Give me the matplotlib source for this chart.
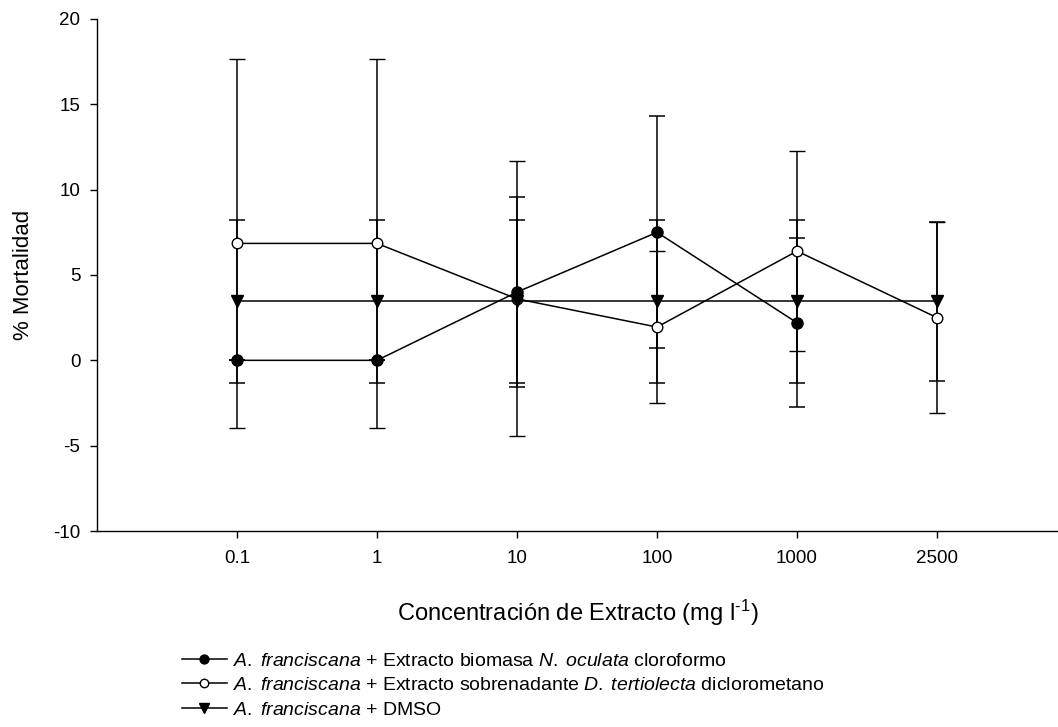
import numpy as np
import matplotlib
matplotlib.use("Agg")
import matplotlib.pyplot as plt

plt.rcParams['font.family'] = ['Liberation Sans', 'DejaVu Sans']
plt.rcParams['mathtext.fontset'] = 'custom'
plt.rcParams['mathtext.rm'] = 'Liberation Sans'
plt.rcParams['mathtext.it'] = 'Liberation Sans:italic'
plt.rcParams['axes.unicode_minus'] = False

conc_labels = ['0.1', '1', '10', '100', '1000', '2500']

# biomasa N. oculata (no value at 2500)
biomasa_mean = [0.0, 0.0, 4.0, 7.5, 2.2, np.nan]
biomasa_sd = [0.0, 0.0, 5.55, 6.8, 4.95, np.nan]

# sobrenadante D. tertiolecta
sobren_mean = [6.85, 6.85, 3.6, 1.95, 6.4, 2.5]
sobren_sd = [10.8, 10.8, 8.05, 4.45, 5.85, 5.6]

# control DMSO
dmso_mean = [3.45, 3.45, 3.45, 3.45, 3.45, 3.45]
dmso_sd = [4.8, 4.8, 4.8, 4.8, 4.8, 4.65]

x = np.arange(1, len(conc_labels) + 1)

fig = plt.figure(figsize=(10.58, 7.27), dpi=100)
ax = fig.add_axes([0.0917, 0.2696, 0.9083, 0.7043])

lw = 1.1
common = dict(color='black', linewidth=lw, elinewidth=lw, capsize=5.5,
              capthick=lw)

h1 = ax.errorbar(x, biomasa_mean, yerr=biomasa_sd, fmt='-o', markersize=8,
                 markerfacecolor='black', markeredgecolor='black', **common)
h2 = ax.errorbar(x, sobren_mean, yerr=sobren_sd, fmt='-o', markersize=7.6,
                 markerfacecolor='white', markeredgecolor='black',
                 markeredgewidth=1.0, **common)
h3 = ax.errorbar(x, dmso_mean, yerr=dmso_sd, fmt='-v', markersize=9,
                 markerfacecolor='black', markeredgecolor='black', **common)

ax.set_xlim(0, 6.864)
ax.set_ylim(-10, 20)
ax.set_xticks(x)
ax.set_xticklabels(conc_labels)
ax.set_yticks(np.arange(-10, 21, 5))
for s in ['top', 'right']:
    ax.spines[s].set_visible(False)
for s in ['left', 'bottom']:
    ax.spines[s].set_linewidth(1.0)
ax.tick_params(direction='out', length=5, width=1.0, labelsize=13.5)
ax.tick_params(axis='y', pad=7)
ax.tick_params(axis='x', pad=9)

ax.set_ylabel('% Mortalidad', fontsize=16, labelpad=14)
ax.set_xlabel(r'Concentración de Extracto (mg l$^{\text{-1}}$)', fontsize=17,
              labelpad=22)

labels = [
    r'$\mathit{A.\;franciscana}$ + Extracto biomasa $\mathit{N.\;oculata}$ cloroformo',
    r'$\mathit{A.\;franciscana}$ + Extracto sobrenadante $\mathit{D.\;tertiolecta}$ diclorometano',
    r'$\mathit{A.\;franciscana}$ + DMSO',
]
handles = [h1.lines[0], h2.lines[0], h3.lines[0]]
fig.legend(handles, labels, loc='upper left', bbox_to_anchor=(0.172, 0.103),
           frameon=False, fontsize=14, handlelength=2.3, handletextpad=0.3,
           labelspacing=0.35, borderaxespad=0, borderpad=0, markerscale=0.8)

fig.savefig('out.png', dpi=100)
